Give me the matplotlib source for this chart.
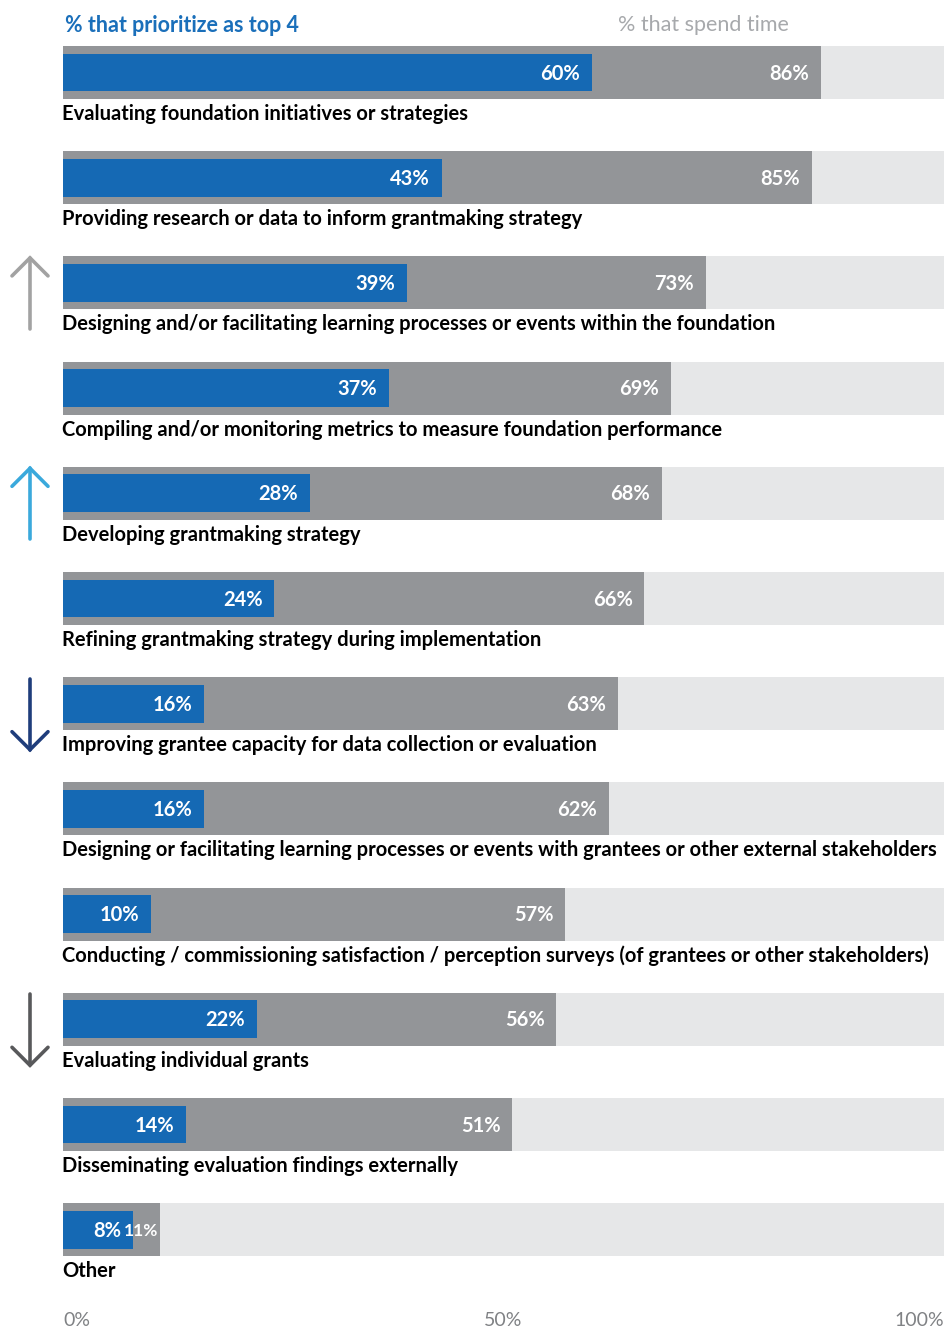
import matplotlib
matplotlib.use("Agg")
import matplotlib.pyplot as plt

plt.rcParams['font.family'] = ['Lato', 'DejaVu Sans']

activities = [
    "Evaluating foundation initiatives or strategies",
    "Providing research or data to inform grantmaking strategy",
    "Designing and/or facilitating learning processes or events within the foundation",
    "Compiling and/or monitoring metrics to measure foundation performance",
    "Developing grantmaking strategy",
    "Refining grantmaking strategy during implementation",
    "Improving grantee capacity for data collection or evaluation",
    "Designing or facilitating learning processes or events with grantees or other external stakeholders",
    "Conducting / commissioning satisfaction / perception surveys (of grantees or other stakeholders)",
    "Evaluating individual grants",
    "Disseminating evaluation findings externally",
    "Other",
]
spend_time = [86, 85, 73, 69, 68, 66, 63, 62, 57, 56, 51, 11]
prioritize = [60, 43, 39, 37, 28, 24, 16, 16, 10, 22, 14, 8]
x_ticks = [0, 50, 100]
# row index -> trend arrow (direction, colour)
arrows = {2: ('up', '#a2a2a2'), 4: ('up', '#3aa9dc'),
          6: ('down', '#1f3d7b'), 9: ('down', '#58595b')}

BLUE = '#1569b4'
GREY = '#939598'
LIGHT = '#e6e7e8'

W, H = 944, 1330
fig = plt.figure(figsize=(W / 100, H / 100), dpi=100)

# pixel layout helpers
x0, x1 = 63, 944
row0, step = 72.5, 105.2

ax = fig.add_axes([x0 / W, 0, (x1 - x0) / W, 1])
ax.set_xlim(0, 100)
ax.set_ylim((H - row0) / step, (0 - row0) / step)
ax.axis('off')

rows = list(range(len(activities)))
ax.barh(rows, [100] * len(rows), height=0.505, color=LIGHT, linewidth=0)
ax.barh(rows, spend_time, height=0.505, color=GREY, linewidth=0)
ax.barh(rows, prioritize, height=0.36, color=BLUE, linewidth=0)

val_kw = dict(color='white', fontsize=14.5, fontweight='bold', va='center')
pad = 1.35
for i in rows:
    ax.text(prioritize[i] - pad, i + 0.01, f"{prioritize[i]}%", ha='right', **val_kw)
    if spend_time[i] - prioritize[i] > 8:
        ax.text(spend_time[i] - pad, i + 0.01, f"{spend_time[i]}%", ha='right', **val_kw)
    else:
        # not enough room: squeeze it against the end of the grey bar
        ax.text(spend_time[i] - 0.15, i + 0.01, f"{spend_time[i]}%", ha='right',
                color='white', fontsize=12.5, fontweight='bold', va='center')

labels = [ax.text(-0.1, i + 0.395, activities[i], color='black', fontsize=15,
                  fontweight='bold', va='center', ha='left') for i in rows]

# shrink the category labels so the longest one fits the bar width
fig.canvas.draw()
r = fig.canvas.get_renderer()
widest = max(t.get_window_extent(r).width for t in labels)
size = min(15, 15 * 878 / widest)
for t in labels:
    t.set_fontsize(size)

# headers
ax.text(0.2, (25 - row0) / step, "% that prioritize as top 4", color='#1a6fba',
        fontsize=15.5, fontweight='bold', va='center', ha='left')
ax.text(63, (25 - row0) / step, "% that spend time", color='#a7a9ac',
        fontsize=15.5, va='center', ha='left')

# axis tick labels
tick_y = (1321 - row0) / step
for t in x_ticks:
    ha = 'left' if t == 0 else ('right' if t == 100 else 'center')
    ax.text(t, tick_y, f"{t}%", color='#808285', fontsize=14,
            va='center', ha=ha)

# trend arrows in the left margin
ax_a = fig.add_axes([0, 0, 1, 1])
ax_a.set_xlim(0, W)
ax_a.set_ylim(H, 0)
ax_a.axis('off')
ax_a.patch.set_alpha(0)
for i, (direction, col) in arrows.items():
    top = row0 + step * i - 26
    bot = top + 73
    ax_a.plot([30, 30], [top + 1, bot - 1], color=col, lw=2.6, solid_capstyle='round')
    if direction == 'up':
        tip, base = top + 1, top + 19
    else:
        tip, base = bot - 1, bot - 19
    ax_a.plot([12, 30, 48], [base, tip, base], color=col, lw=2.6,
              solid_capstyle='round', solid_joinstyle='miter')

fig.savefig("out.png", dpi=100)
